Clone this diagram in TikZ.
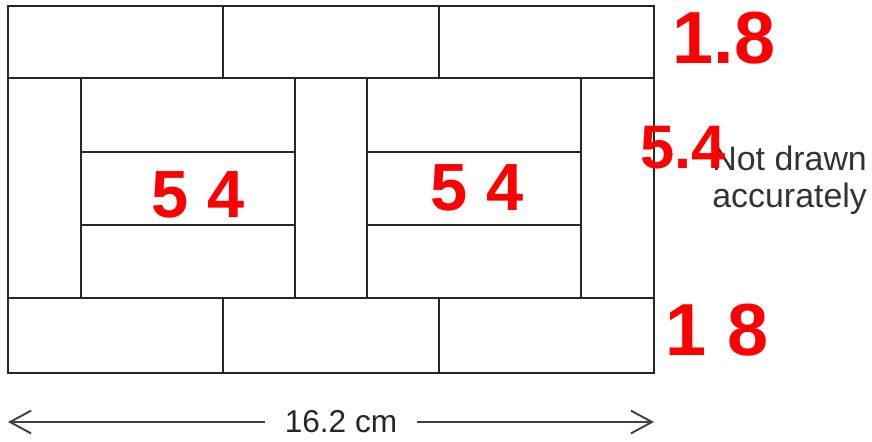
\documentclass[tikz,border=0pt]{standalone}
\usepackage{fontspec}
\setmainfont{Liberation Sans}
\usetikzlibrary{arrows.meta}
\tikzset{>={Straight Barb[length=12pt,width=13pt,line width=1.1pt]}}
\tikzset{
    brick/.style={draw=black!85, line width=1.1pt},
    scribble/.style={text=red, inner sep=0pt, font=\bfseries},
    dimline/.style={->, draw=black!75, line width=1.2pt}
}

\begin{document}
\begin{tikzpicture}[x=0.02cm,y=-0.02cm]
    \useasboundingbox (0,0) rectangle (872,441);
    % bricks
    \draw[brick] (8,6) rectangle (654,373);
    \draw[brick] (8,78) -- (654,78) (8,298) -- (654,298);
    \draw[brick] (223,6) -- (223,78) (439,6) -- (439,78);
    \draw[brick] (223,298) -- (223,373) (439,298) -- (439,373);
    \foreach \x in {81,295,367,581}
        \draw[brick] (\x,78) -- (\x,298);
    \foreach \y in {152,225}
        \draw[brick] (81,\y) -- (295,\y) (367,\y) -- (581,\y);
    % note
    \node[anchor=base west, inner sep=0pt, text=black!80, font=\fontsize{19.3}{20}\selectfont] (note1) at (712,170) {Not drawn};
    \node[anchor=base west, inner sep=0pt, text=black!80, font=\fontsize{19.3}{20}\selectfont] (note2) at (712,207) {accurately};
    % width
    \coordinate (dimL) at (8,422);
    \coordinate (dimR) at (654,422);
    \node[font=\fontsize{18}{18}\selectfont, text=black!85, inner sep=0pt] (dimtxt) at (341,422) {16.2 cm};
    \draw[dimline] (dimtxt.west) ++(-19,0) -- (dimL);
    \draw[dimline] (dimtxt.east) ++(19,0) -- (dimR);
    % handwriting
    \node[scribble, font=\fontsize{42}{42}\selectfont\bfseries] (top) at (724,38) {1.8};
    \node[scribble, font=\fontsize{35}{35}\selectfont\bfseries] (side) at (683,148) {5.4};
    \node[scribble, font=\fontsize{42}{42}\selectfont\bfseries] (bot) at (717,330) {1 8};
    \node[scribble, font=\fontsize{38}{38}\selectfont\bfseries] (left) at (198,195) {5 4};
    \node[scribble, font=\fontsize{38}{38}\selectfont\bfseries] (right) at (477,188) {5 4};
\end{tikzpicture}
\end{document}
